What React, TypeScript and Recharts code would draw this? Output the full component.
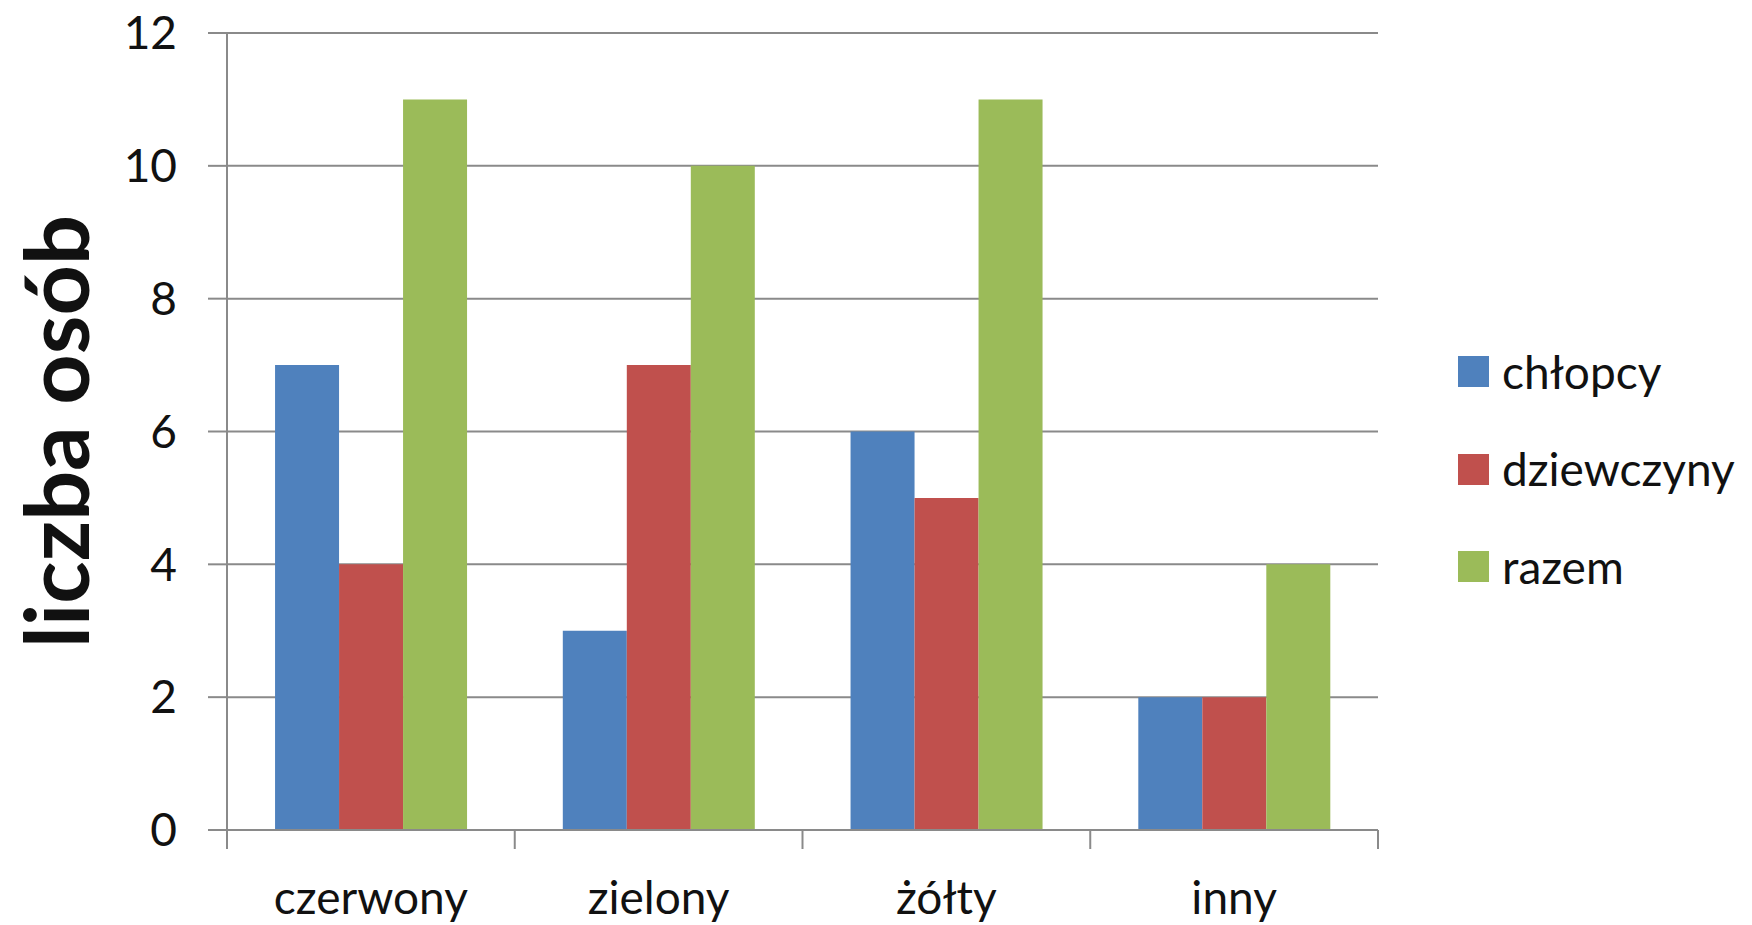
import { BarChart, Bar, XAxis, YAxis, CartesianGrid, Legend } from 'recharts'

const categories = ['czerwony', 'zielony', 'żółty', 'inny']
const chlopcy = [7, 3, 6, 2]
const dziewczyny = [4, 7, 5, 2]
const razem = [11, 10, 11, 4]
const yTicks = [0, 2, 4, 6, 8, 10, 12]

const data = categories.map((name, i) => ({
  name,
  chlopcy: chlopcy[i],
  dziewczyny: dziewczyny[i],
  razem: razem[i],
}))

const W = 1752
const H = 925
const MARGIN = { top: 33, right: 374, bottom: 0, left: 0 }
const Y_AXIS_W = 227
const PLOT_W = W - MARGIN.left - MARGIN.right - Y_AXIS_W
const AXIS_COLOR = '#8a8a8a'
const TEXT_COLOR = '#111'
const FONT = 'Lato, "Open Sans", sans-serif'
const TICK_SIZE = 19
const X_TICK_MARGIN = 32

function CategoryTick(props: any) {
  const { x, y, payload, index, visibleTicksCount } = props
  const band = PLOT_W / (visibleTicksCount || categories.length)
  const top = y - X_TICK_MARGIN - TICK_SIZE
  const left = x - band / 2
  const right = x + band / 2
  return (
    <g>
      <line x1={left} x2={left} y1={top} y2={top + TICK_SIZE} stroke={AXIS_COLOR} strokeWidth={2} />
      {index === visibleTicksCount - 1 && (
        <line x1={right} x2={right} y1={top} y2={top + TICK_SIZE} stroke={AXIS_COLOR} strokeWidth={2} />
      )}
      <text x={x} y={y} dy={33} textAnchor="middle" fill={TEXT_COLOR} fontSize={46} fontFamily={FONT}>
        {payload.value}
      </text>
    </g>
  )
}

function LegendBox({ payload }: any) {
  return (
    <div style={{ fontFamily: FONT }}>
      {(payload || []).map((p: any) => (
        <div key={p.value} style={{ display: 'flex', alignItems: 'center', height: 97.5 }}>
          <span style={{ width: 31, height: 31, background: p.color, display: 'inline-block', marginRight: 13 }} />
          <span style={{ fontSize: 46, color: TEXT_COLOR, lineHeight: 1 }}>{p.value}</span>
        </div>
      ))}
    </div>
  )
}

function YLabel({ viewBox }: any) {
  const cy = viewBox.y + viewBox.height / 2
  const bx = 89
  return (
    <text
      x={bx}
      y={cy}
      transform={`rotate(-90, ${bx}, ${cy})`}
      textAnchor="middle"
      fontSize={88}
      fontWeight={700}
      fontFamily={FONT}
      fill={TEXT_COLOR}
    >
      liczba osób
    </text>
  )
}

export default function App() {
  return (
    <div style={{ position: 'absolute', left: 0, top: 0, width: W, height: H, background: '#fff', fontFamily: FONT }}>
      <BarChart width={W} height={H} data={data} margin={MARGIN} barCategoryGap="16.7%" barGap={0}>
        <CartesianGrid vertical={false} stroke={AXIS_COLOR} strokeWidth={2} />
        <XAxis
          dataKey="name"
          height={H - MARGIN.top - 797}
          axisLine={{ stroke: AXIS_COLOR, strokeWidth: 2 }}
          tickLine={false}
          tickSize={TICK_SIZE}
          tickMargin={X_TICK_MARGIN}
          tick={<CategoryTick />}
          interval={0}
        />
        <YAxis
          width={Y_AXIS_W}
          domain={[0, 12]}
          ticks={yTicks}
          interval={0}
          axisLine={{ stroke: AXIS_COLOR, strokeWidth: 2 }}
          tickLine={{ stroke: AXIS_COLOR, strokeWidth: 2 }}
          tickSize={TICK_SIZE}
          tickMargin={31}
          tick={{ fill: TEXT_COLOR, fontSize: 46, fontFamily: FONT }}
          label={<YLabel />}
        />
        <Legend
          layout="vertical"
          align="center"
          verticalAlign="middle"
          wrapperStyle={{ left: 1458, top: 323, width: 294 }}
          content={<LegendBox />}
        />
        <Bar dataKey="chlopcy" name="chłopcy" fill="#4F81BD" isAnimationActive={false} />
        <Bar dataKey="dziewczyny" name="dziewczyny" fill="#C0504D" isAnimationActive={false} />
        <Bar dataKey="razem" name="razem" fill="#9BBB59" isAnimationActive={false} />
      </BarChart>
    </div>
  )
}
